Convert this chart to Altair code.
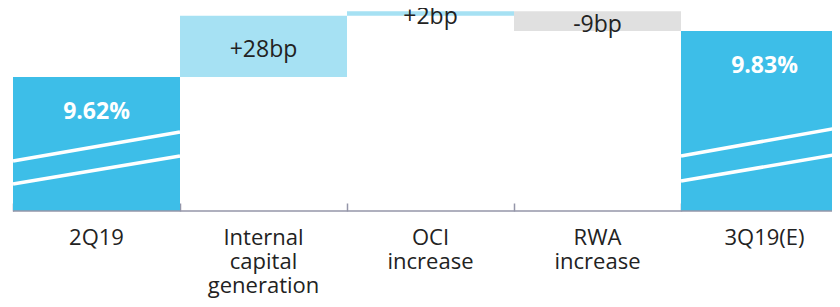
import altair as alt
import pandas as pd

# ---- data ----
categories = ["2Q19", "Internal\ncapital\ngeneration", "OCI\nincrease", "RWA\nincrease", "3Q19(E)"]
kinds = ["total", "up", "up", "down", "total"]
start_ratio = 9.62          # CET1 ratio 2Q19 (%)
changes_bp = [28, 2, -9]    # internal capital, OCI, RWA (bp)
end_ratio = 9.83            # 3Q19(E) (%)
bar_labels = ["9.62%", "+28bp", "+2bp", "-9bp", "9.83%"]

# axis-break stripes (band position from/to, ratio from/to)
break_x0 = [0.0, 0.0, 4.0, 4.0]
break_x1 = [1.0, 1.0, 5.0, 5.0]
break_y0 = [9.236, 9.131, 9.259, 9.145]
break_y1 = [9.369, 9.259, 9.396, 9.275]

# ---- scale / style ----
Y_MIN, Y_MAX = 9.008, 9.935
X_RANGE = [0, 835]
C_MAIN, C_UP, C_DOWN = "#3DBEE8", "#A6E1F3", "#E0E0E0"
AXIS_C = "#9496A9"
FONT = "Open Sans"

# waterfall table
rows = []
level = start_ratio
rows.append(dict(cat=categories[0], kind=kinds[0], y0=Y_MIN, y1=start_ratio, label=bar_labels[0]))
for i, bp in enumerate(changes_bp, start=1):
    new = round(level + bp / 100.0, 4)
    rows.append(dict(cat=categories[i], kind=kinds[i], y0=level, y1=new, label=bar_labels[i]))
    level = new
rows.append(dict(cat=categories[4], kind=kinds[4], y0=Y_MIN, y1=end_ratio, label=bar_labels[4]))
df = pd.DataFrame(rows)
df["x0"] = [float(i) for i in range(len(df))]
df["x1"] = df["x0"] + 1.0
df["xc"] = df["x0"] + 0.5
df["top"] = df[["y0", "y1"]].max(axis=1)
df["mid"] = (df["y0"] + df["y1"]) / 2
df_tot = df[df["kind"] == "total"].copy()
df_inc = df[df["kind"] != "total"].copy()

# stripes in long form
spts = []
for k in range(len(break_x0)):
    spts.append(dict(sid=k, x=break_x0[k], y=break_y0[k]))
    spts.append(dict(sid=k, x=break_x1[k], y=break_y1[k]))
df_str = pd.DataFrame(spts)
df_base = pd.DataFrame(dict(x=[0.0, 5.0], y=[Y_MIN, Y_MIN]))

xscale = alt.Scale(domain=[0, 5], range=X_RANGE, nice=False, zero=False)
yscale = alt.Scale(domain=[Y_MIN, Y_MAX], nice=False, zero=False)

bars = alt.Chart(df).mark_bar().encode(
    x=alt.X("x0:Q", scale=xscale, title=None,
            axis=alt.Axis(domain=False, values=[0, 1, 2, 3, 4, 5], offset=-8,
                          tickSize=8, tickColor=AXIS_C, tickWidth=1.5,
                          labels=False, grid=False)),
    x2="x1:Q",
    y=alt.Y("y0:Q", scale=yscale, axis=None),
    y2="y1:Q",
    color=alt.Color("kind:N", scale=alt.Scale(domain=["total", "up", "down"],
                                               range=[C_MAIN, C_UP, C_DOWN]), legend=None),
)

stripes = alt.Chart(df_str).mark_line(color="white", strokeWidth=3.5).encode(
    x=alt.X("x:Q", scale=xscale),
    y=alt.Y("y:Q", scale=yscale),
    detail="sid:N",
)

baseline = alt.Chart(df_base).mark_line(color=AXIS_C, strokeWidth=1.5).encode(
    x=alt.X("x:Q", scale=xscale),
    y=alt.Y("y:Q", scale=yscale),
)

totals_text = alt.Chart(df_tot).mark_text(
    font=FONT, fontWeight="bold", fontSize=23, color="white", baseline="middle", dy=35
).encode(x=alt.X("xc:Q", scale=xscale), y=alt.Y("top:Q", scale=yscale), text="label:N")

incr_text = alt.Chart(df_inc).mark_text(
    font=FONT, fontSize=23, color="#222222", baseline="middle", dy=3.5
).encode(x=alt.X("xc:Q", scale=xscale), y=alt.Y("mid:Q", scale=yscale), text="label:N")

cat_text = alt.Chart(df).mark_text(
    font=FONT, fontSize=22, color="#222222", baseline="top", align="center",
    lineBreak="\n", lineHeight=24
).encode(x=alt.X("xc:Q", scale=xscale), y=alt.value(220), text="cat:N")

chart = alt.layer(bars, stripes, baseline, totals_text, incr_text, cat_text).properties(
    width=819, height=203,
    autosize=alt.AutoSizeParams(type="none"),
    padding={"left": 5, "top": 0, "right": 0, "bottom": 88},
).configure_view(strokeWidth=0)

chart.save("out.html", embed_options={"renderer": "svg", "actions": False})
